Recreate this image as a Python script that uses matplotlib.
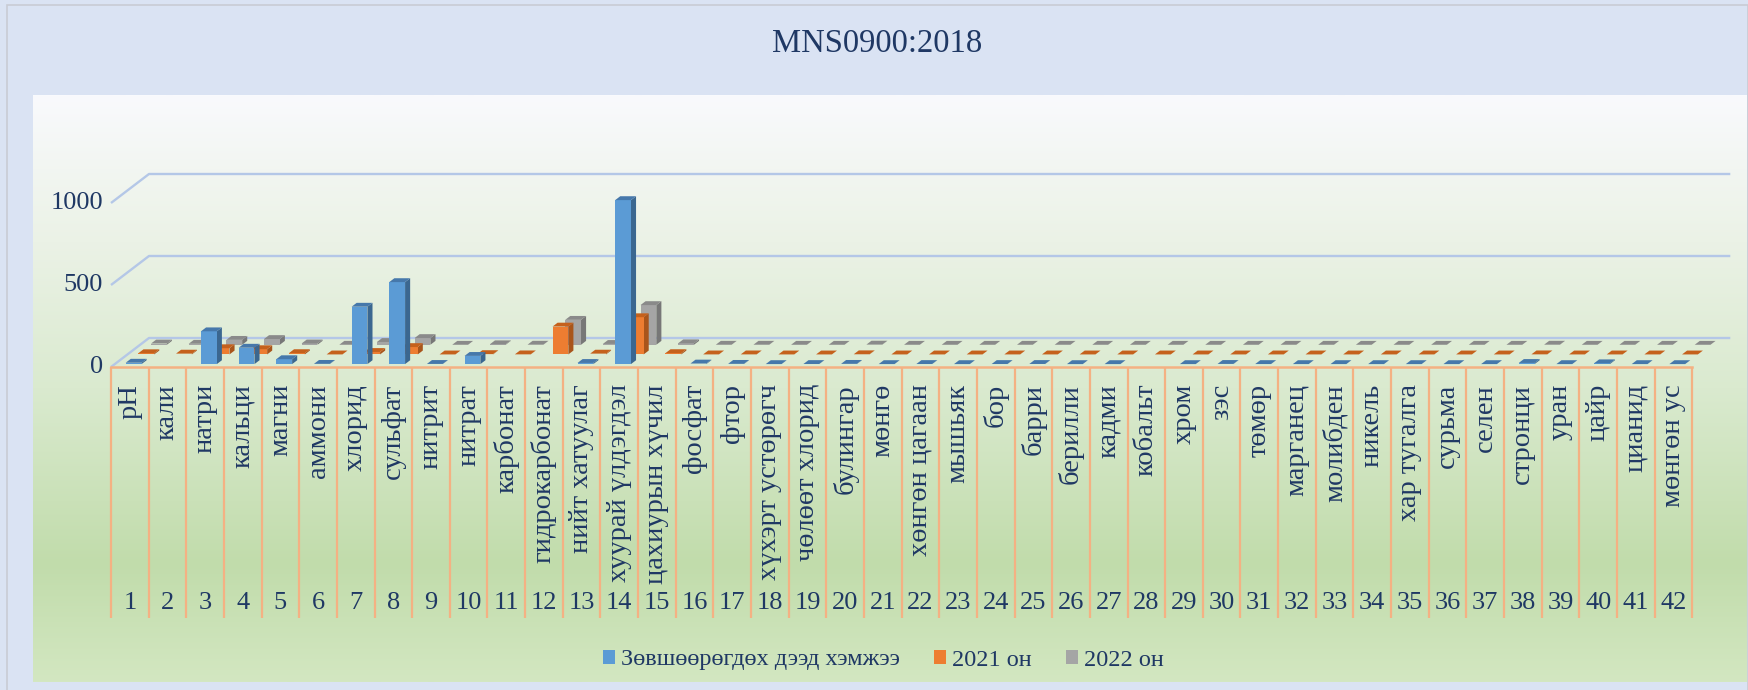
import numpy as np
import matplotlib.pyplot as plt
from matplotlib.patches import Patch, Rectangle
from matplotlib.collections import PolyCollection
from matplotlib.colors import LinearSegmentedColormap

# ---- data ----
numbers = list(range(1, 43))
names = ['pH', 'кали', 'натри', 'кальци', 'магни', 'аммони', 'хлорид', 'сульфат',
         'нитрит', 'нитрат', 'карбонат', 'гидрокарбонат', 'нийт хатуулаг',
         'хуурай үлдэгдэл', 'цахиурын хүчил', 'фосфат', 'фтор', 'хүхэрт устөрөгч',
         'чөлөөт хлорид', 'булингар', 'мөнгө', 'хөнгөн цагаан', 'мышьяк', 'бор',
         'барри', 'берилли', 'кадми', 'кобальт', 'хром', 'зэс', 'төмөр', 'марганец',
         'молибден', 'никель', 'хар тугалга', 'сурьма', 'селен', 'стронци', 'уран',
         'цайр', 'цианид', 'мөнгөн ус']
nan = np.nan
limit = [8.5, nan, 200, 100, 30, 1.5, 350, 500, 1, 50, nan, nan, 7, 1000, nan, 3.5,
         1.5, 0.1, 0.5, 1.5, 0.1, 0.5, 0.01, 0.5, 0.7, 0.0002, 0.003, nan, 0.05, 1,
         0.3, 0.1, 0.07, 0.02, 0.01, 0.02, 0.01, 7, 0.015, 5, 0.07, 0.006]
y2021 = [7.5, 5, 38, 32, 8, 0.1, 15, 45, 0.02, 2, 0.5, 170, 5, 227, 8, 0.2, 0.3, 0, 0,
         1, 0, 0.01, 0.001, 0.1, 0.05, 0, 0, 0, 0, 0.01, 0.1, 0.05, 0, 0, 0, 0, 0,
         0.5, 0.005, 0.05, 0, 0]
y2022 = [7.6, 6, 30, 35, 8, 0.1, 17, 41, 0.02, 3, 0.5, 152, 5, 242, 9, 0.2, 0.3, 0, 0,
         1, 0, 0.01, 0.001, 0.1, 0.05, 0, 0, 0, 0, 0.01, 0.1, 0.05, 0, 0, 0, 0, 0,
         0.5, 0.005, 0.05, 0, 0]
series_names = ['Зөвшөөрөгдөх дээд хэмжээ', '2021 он', '2022 он']
yticks = [0, 500, 1000]

# face colours: front, top, side
colors = [('#5B9BD5', '#4678AB', '#3B6790'),
          ('#ED7D31', '#C5611C', '#A9551B'),
          ('#A5A5A5', '#8A8A8A', '#777777')]
txt = '#1F3864'
serif = ['Liberation Serif', 'DejaVu Serif']

# ---- layout (pixels) ----
W, H = 1749, 690
PX_CAT = 37.65      # px per category
PX_UNIT = 0.164     # px per value unit
X0, Y0 = 111, 367   # front-left corner of floor
DEPTH_X = 38 / PX_CAT
DEPTH_Y = 29 / PX_UNIT


def ypx(p):
    return (Y0 - p) / PX_UNIT


def xpx(p):
    return (p - X0) / PX_CAT


fig = plt.figure(figsize=(W / 100, H / 100), dpi=100, facecolor='#DAE3F3')
fig.patches.append(Rectangle((7 / W, -0.1), (W - 8) / W, 1.1 - 5 / H,
                             transform=fig.transFigure, fill=False,
                             edgecolor='#C8CCD4', lw=1.2))

# gradient plot area
pan = fig.add_axes([33 / W, (H - 682) / H, (1747 - 33) / W, (682 - 95) / H])
pan.axis('off')
cmap = LinearSegmentedColormap.from_list(
    'bg', [(0, '#F9FAFD'), (0.25, '#EBF2E6'), (0.5, '#DAEACF'),
           (0.8, '#C1DCAB'), (1.0, '#D3E7C1')])
pan.imshow(np.linspace(0, 1, 256).reshape(-1, 1), aspect='auto', cmap=cmap)

ax = fig.add_axes([0, 0, 1, 1])
ax.set_xlim(-X0 / PX_CAT, (W - X0) / PX_CAT)
ax.set_ylim((Y0 - H) / PX_UNIT, Y0 / PX_UNIT)
ax.axis('off')

n = len(names)
# walls / gridlines
for g in yticks:
    ax.plot([0, DEPTH_X, n + DEPTH_X], [g, g + DEPTH_Y, g + DEPTH_Y],
            color='#B4C7E7', lw=1.7, zorder=1, solid_capstyle='butt')
    ax.text(xpx(103), g, str(g), ha='right', va='center', fontsize=19,
            family=serif, color=txt)

# bars, back row first
bw = 0.42
row_dx, row_dy = DEPTH_X / 3, DEPTH_Y / 3
bdx, bdy = 0.4 * row_dx, 0.4 * row_dy
data = [limit, y2021, y2022]
for r in [2, 1, 0]:
    vals = np.array(data[r], dtype=float)
    ok = ~np.isnan(vals)
    idx = np.arange(n)[ok]
    v = vals[ok]
    xl = idx + 0.29 + (r + 0.3) * row_dx
    xr = xl + bw
    yb = (r + 0.3) * row_dy
    z = 3 + (2 - r) * 3
    sides = [[(a, yb), (a + bdx, yb + bdy), (a + bdx, yb + h + bdy), (a, yb + h)]
             for a, h in zip(xr, v)]
    ax.add_collection(PolyCollection(sides, facecolors=colors[r][2],
                                     edgecolors='none', zorder=z))
    ax.bar(xl, v, width=bw, bottom=yb, align='edge', color=colors[r][0],
           edgecolor='none', zorder=z + 1)
    tops = [[(a, yb + h), (a + bw, yb + h), (a + bw + bdx, yb + h + bdy),
             (a + bdx, yb + h + bdy)] for a, h in zip(xl, v)]
    ax.add_collection(PolyCollection(tops, facecolors=colors[r][1],
                                     edgecolors='none', zorder=z + 2))

# category axis
ax.plot([0, n], [0, 0], color='#F4B183', lw=1.8, zorder=12)
ax.vlines(np.arange(n + 1), ypx(618), 0, color='#F4B183', lw=1.6, zorder=12)
for i in range(n):
    ax.text(i + 0.5, ypx(384), names[i], rotation=90, ha='center', va='top',
            fontsize=20.5, family=serif, color=txt, zorder=13)
    ax.text(i + 0.5, ypx(603), str(numbers[i]), ha='center', va='center',
            fontsize=19, family=serif, color=txt, zorder=13)

fig.text(877 / W, 1 - 44 / H, 'MNS0900:2018', ha='center', va='center',
         fontsize=23.5, family=serif, color=txt)

handles = [Patch(facecolor=c[0], label=s) for c, s in zip(colors, series_names)]
fig.legend(handles=handles, loc='center', bbox_to_anchor=(883 / W, 1 - 660 / H),
           ncol=3, frameon=False, handlelength=0.5, handleheight=0.5,
           handletextpad=0.25, columnspacing=1.4,
           prop={'family': serif, 'size': 17.5}, labelcolor=txt)

fig.savefig('out.png', dpi=100, facecolor=fig.get_facecolor())
